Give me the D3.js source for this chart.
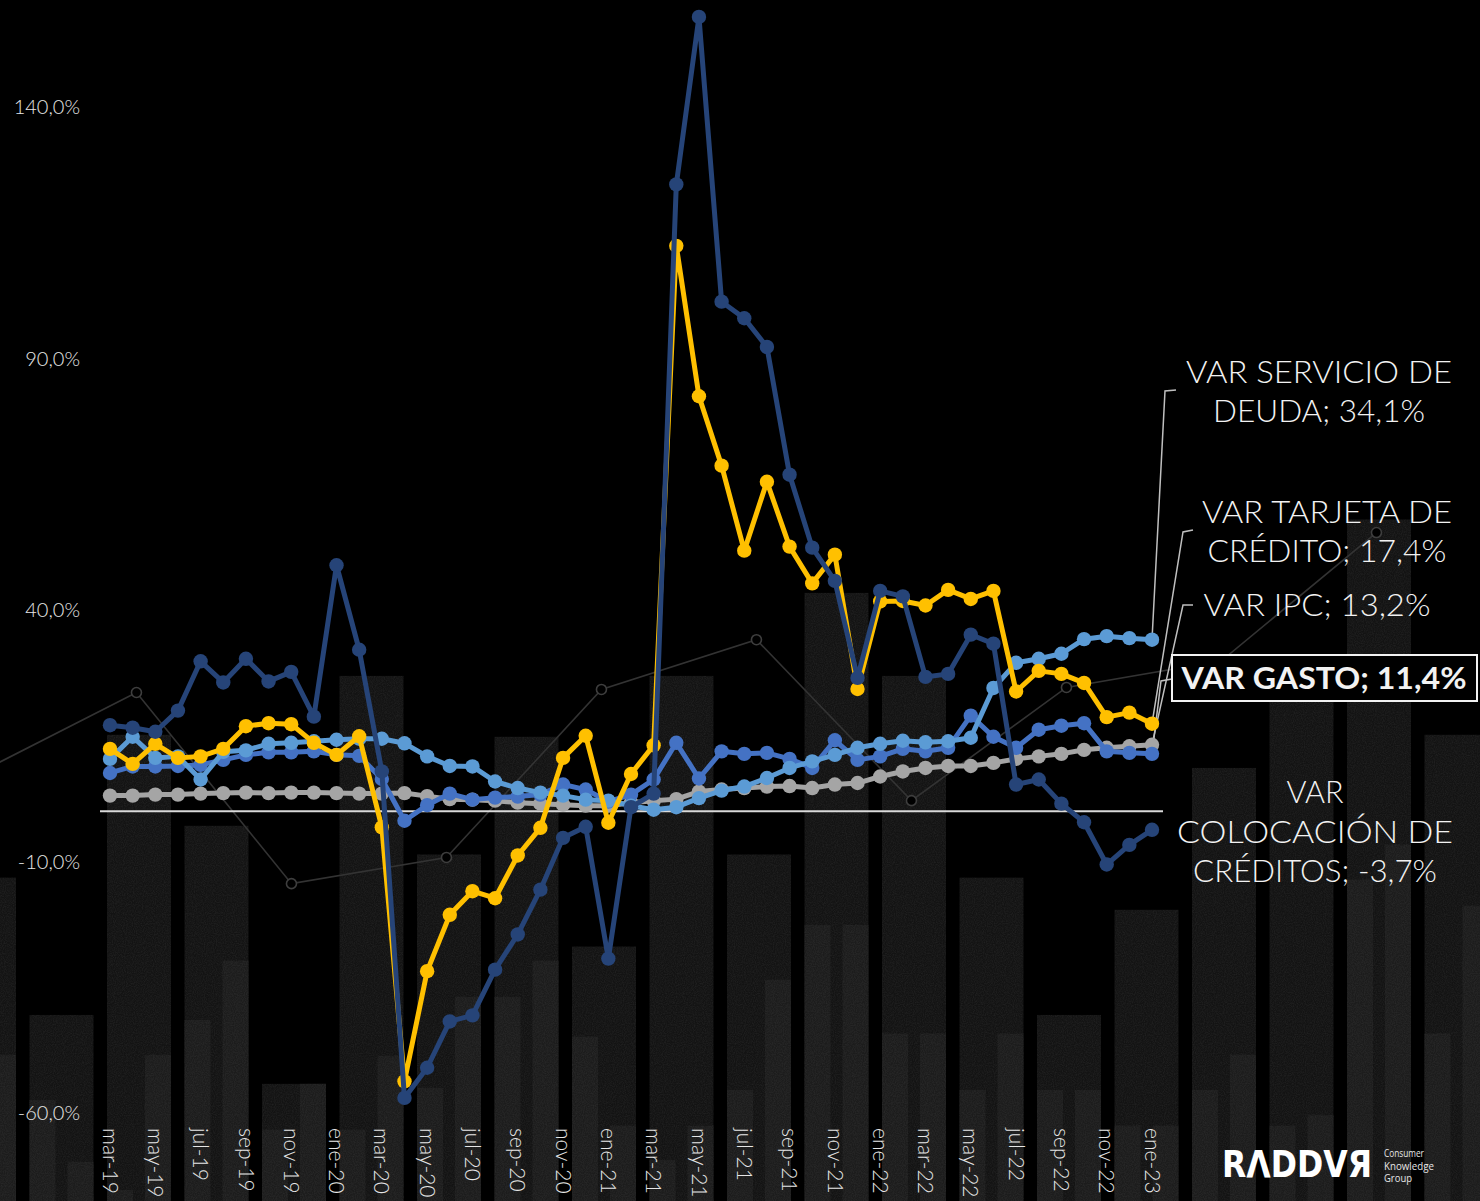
<!DOCTYPE html>
<html>
<head>
<meta charset="utf-8">
<script src="https://cdn.jsdelivr.net/npm/d3@7"></script>
<style>
html,body{margin:0;padding:0;background:#000;}
svg{display:block;}
</style>
</head>
<body>
<svg id="chart" width="1480" height="1201"></svg>
<script>
// ---------------- DATA ----------------
const months = ["mar-19","abr-19","may-19","jun-19","jul-19","ago-19","sep-19","oct-19","nov-19","dic-19",
  "ene-20","feb-20","mar-20","abr-20","may-20","jun-20","jul-20","ago-20","sep-20","oct-20","nov-20","dic-20",
  "ene-21","feb-21","mar-21","abr-21","may-21","jun-21","jul-21","ago-21","sep-21","oct-21","nov-21","dic-21",
  "ene-22","feb-22","mar-22","abr-22","may-22","jun-22","jul-22","ago-22","sep-22","oct-22","nov-22","dic-22",
  "ene-23"];
const tickMonths = months.filter((d, i) => i % 2 === 0);
const yTicks = [140, 90, 40, -10, -60];

const colocacion = [17.1,16.6,15.8,20.0,29.8,25.6,30.3,25.8,27.7,18.8,
  48.9,32.1,7.9,-57.0,-51.0,-41.8,-40.6,-31.5,-24.5,-15.6,
  -5.3,-3.1,-29.3,0.8,3.5,124.6,157.9,101.3,98.0,92.3,
  66.9,52.4,45.8,26.5,43.8,42.7,26.7,27.3,35.1,33.3,
  5.3,6.3,1.5,-2.2,-10.6,-6.7,-3.7];
const tarjeta = [12.4,9.4,13.4,10.6,10.9,12.4,16.9,17.5,17.3,13.6,
  11.2,14.9,-3.2,-53.7,-31.8,-20.6,-15.9,-17.3,-8.8,-3.3,
  10.6,15.0,-2.3,7.4,13.1,112.4,82.5,68.7,51.8,65.5,
  52.6,45.3,51.0,24.3,41.7,41.8,40.9,44.0,42.2,43.8,
  23.8,27.9,27.3,25.5,18.7,19.6,17.4];
const servicio = [10.4,14.8,10.6,10.9,6.3,11.8,12.1,13.4,13.6,13.9,
  14.2,14.4,14.4,13.5,10.9,9.0,8.9,5.9,4.6,3.7,
  3.1,2.3,2.1,1.1,0.3,0.8,2.6,4.1,4.9,6.6,
  8.6,9.9,11.2,12.6,13.4,14.0,13.7,13.9,14.6,24.5,
  29.5,30.3,31.3,34.2,34.8,34.4,34.1];
const gasto = [7.6,8.9,8.9,9.0,9.2,10.2,11.2,11.7,11.7,11.9,
  11.2,11.0,6.4,-1.9,1.2,3.5,2.3,2.7,2.9,3.3,
  5.3,4.3,1.9,3.3,6.3,13.6,6.5,11.9,11.4,11.6,
  10.4,8.6,14.1,10.2,10.9,12.4,11.9,12.6,19.0,14.8,
  12.6,16.2,17.0,17.5,11.9,11.6,11.4];
const ipc = [3.1,3.1,3.3,3.3,3.5,3.6,3.7,3.6,3.7,3.7,
  3.6,3.5,3.5,3.6,3.0,2.4,2.3,2.1,1.7,1.5,
  1.3,1.1,1.1,1.7,2.1,2.4,3.9,4.3,4.6,4.9,
  5.0,4.6,5.3,5.6,6.9,7.9,8.6,9.0,9.0,9.6,
  10.4,10.9,11.4,12.2,12.6,12.9,13.2];

// decorative background (values on the same % scale)
const bgWide    = [-13.2,-40.5,15.2,-2.9,-54.2,26.9,-8.6,14.8,-26.9,26.9,-8.6,43.4,26.9,-13.2,-40.5,-19.6,8.6,24.2,58.0,15.2];
const bgNarrowL = [null,-57.4,-75.3,-41.5,-63.3,-63.3,-55.0,-36.9,-44.8,-69.3,-55.4,-22.6,-44.2,-55.4,-55.4,-62.5,-55.4,-62.5,-13.6,-44.2];
const bgNarrowR = [-48.4,-69.7,-48.4,-29.7,-54.2,-48.6,-36.9,-29.7,-62.5,-62.5,-33.5,-22.6,-44.2,-44.2,-55.4,-62.5,-48.4,-60.4,-6.6,-18.8];
const bgLine    = [7.9,23.6,-14.4,-9.2,24.2,34.1,2.1,24.6,29.9,55.4];

// ---------------- SETUP ----------------
const W = 1480, H = 1201;
const svg = d3.select("#chart");
svg.append("rect").attr("width", W).attr("height", H).attr("fill", "#000");

const x = d3.scalePoint().domain(months).range([110, 1152]);
const y = d3.scaleLinear().domain([-60, 140]).range([1113, 107]);
const bgX = d3.scaleLinear().domain([0, 19]).range([-48, 1424.5]);
const fmtPct = v => d3.format(".1f")(v).replace(".", ",").replace("\u2212", "-") + "%";
const FONT = "Lato, 'Open Sans', 'DejaVu Sans', sans-serif";

// subtle noise texture filter
const defs = svg.append("defs");
const f = defs.append("filter").attr("id", "noise").attr("x", 0).attr("y", 0).attr("width", 1).attr("height", 1)
  .attr("color-interpolation-filters", "sRGB");
f.append("feTurbulence").attr("type", "fractalNoise").attr("baseFrequency", 0.9).attr("numOctaves", 2).attr("seed", 3).attr("result", "n");
f.append("feColorMatrix").attr("in", "n").attr("type", "matrix")
  .attr("values", "0 0 0 0 1  0 0 0 0 1  0 0 0 0 1  0.10 0 0 0 -0.03").attr("result", "w");
f.append("feComposite").attr("in", "w").attr("in2", "SourceAlpha").attr("operator", "in").attr("result", "wn");
const fm = f.append("feMerge");
fm.append("feMergeNode").attr("in", "SourceGraphic");
fm.append("feMergeNode").attr("in", "wn");

// ---------------- BACKGROUND ----------------
const bg = svg.append("g").attr("filter", "url(#noise)");
const wideW = bgX(1) - bgX(0) - 13.5;
const narrowW = 26;
bg.selectAll("rect.wide").data(bgWide).join("rect").attr("class", "wide")
  .attr("x", (d, i) => bgX(i)).attr("y", d => y(d))
  .attr("width", wideW).attr("height", d => H - y(d)).attr("fill", "#131313");
bg.selectAll("rect.nl").data(bgNarrowL.map((v, i) => ({v, i})).filter(d => d.v !== null)).join("rect").attr("class", "nl")
  .attr("x", d => bgX(d.i)).attr("y", d => y(d.v))
  .attr("width", narrowW).attr("height", d => H - y(d.v)).attr("fill", "#1c1c1c");
bg.selectAll("rect.nr").data(bgNarrowR.map((v, i) => ({v, i})).filter(d => d.v !== null)).join("rect").attr("class", "nr")
  .attr("x", d => bgX(d.i) + wideW - narrowW).attr("y", d => y(d.v))
  .attr("width", narrowW).attr("height", d => H - y(d.v)).attr("fill", "#1c1c1c");

const bgPts = bgLine.map((v, k) => [bgX(0.38 + 2 * k), y(v)]);
svg.append("path").attr("d", d3.line()(bgPts)).attr("fill", "none")
  .attr("stroke", "#333").attr("stroke-width", 1.6);
svg.selectAll("circle.bgp").data(bgPts).join("circle").attr("class", "bgp")
  .attr("cx", d => d[0]).attr("cy", d => d[1]).attr("r", 5)
  .attr("fill", "#000").attr("stroke", "#3e3e3e").attr("stroke-width", 1.6);

// ---------------- AXES ----------------
svg.append("g").selectAll("text").data(yTicks).join("text")
  .attr("x", 80).attr("y", d => y(d)).attr("dy", "0.35em")
  .attr("text-anchor", "end").attr("fill", "#e6e6e6")
  .attr("font-family", FONT).attr("font-size", 20).attr("font-weight", 300)
  .text(d => fmtPct(d));

svg.append("g").selectAll("text").data(tickMonths).join("text")
  .attr("transform", d => `translate(${x(d)},1128) rotate(90)`)
  .attr("text-anchor", "start").attr("dy", "0.35em")
  .attr("fill", "#e6e6e6").attr("font-family", FONT).attr("font-size", 21).attr("font-weight", 300)
  .text(d => d);

// zero line
svg.append("line").attr("x1", 100).attr("x2", 1163).attr("y1", y(0)).attr("y2", y(0))
  .attr("stroke", "#d9d9d9").attr("stroke-width", 2);

// ---------------- SERIES ----------------
const series = [
  {key: "ipc",        values: ipc,        color: "#A5A5A5", lines: ["VAR IPC; "], anchor: [[1193, 605], [1183, 605]]},
  {key: "gasto",      values: gasto,      color: "#4472C4", lines: ["VAR GASTO; "], anchor: [[1172, 679], [1161, 681]]},
  {key: "servicio",   values: servicio,   color: "#5B9BD5", lines: ["VAR SERVICIO DE", "DEUDA; "], anchor: [[1176, 390], [1165, 391]]},
  {key: "tarjeta",    values: tarjeta,    color: "#FFC000", lines: ["VAR TARJETA DE", "CRÉDITO; "], anchor: [[1193, 530], [1183, 532]]},
  {key: "colocacion", values: colocacion, color: "#264478", lines: ["VAR", "COLOCACIÓN DE", "CRÉDITOS; "], anchor: null}
];

// leader lines
const leaders = svg.append("g");
series.filter(s => s.anchor).forEach(s => {
  const last = s.values.length - 1;
  const pts = [...s.anchor, [x(months[last]), y(s.values[last])]];
  leaders.append("path").attr("d", d3.line()(pts)).attr("fill", "none")
    .attr("stroke", "#bfbfbf").attr("stroke-width", 1.5);
});

const line = d3.line().x((d, i) => x(months[i])).y(d => y(d));
series.forEach(s => {
  const g = svg.append("g");
  g.append("path").attr("d", line(s.values)).attr("fill", "none")
    .attr("stroke", s.color).attr("stroke-width", 5).attr("stroke-linejoin", "round");
  g.selectAll("circle").data(s.values).join("circle")
    .attr("cx", (d, i) => x(months[i])).attr("cy", d => y(d)).attr("r", 7.2)
    .attr("fill", s.color);
});

// ---------------- LABELS ----------------
const labelLayout = {
  servicio:   {cx: 1319, base: [383, 422], widths: [266, 212], bold: false},
  tarjeta:    {cx: 1327, base: [523, 562], widths: [250, 239], bold: false},
  ipc:        {cx: 1317, base: [616], widths: [227], bold: false},
  gasto:      {cx: 1324, base: [689], widths: [285], bold: true, box: [1172, 655, 305, 46]},
  colocacion: {cx: 1315, base: [803, 843, 882], widths: [57, 276, 244], bold: false}
};
const labels = svg.append("g");
series.forEach(s => {
  const L = labelLayout[s.key];
  const lastVal = s.values[s.values.length - 1];
  const texts = s.lines.map((t, i) => i === s.lines.length - 1 ? t + fmtPct(lastVal) : t);
  if (L.box) {
    labels.append("rect").attr("x", L.box[0]).attr("y", L.box[1]).attr("width", L.box[2]).attr("height", L.box[3])
      .attr("fill", "#000").attr("stroke", "#f2f2f2").attr("stroke-width", 2);
  }
  texts.forEach((t, i) => {
    labels.append("text").attr("x", L.cx).attr("y", L.base[i]).attr("text-anchor", "middle")
      .attr("fill", "#f2f2f2").attr("font-family", FONT).attr("font-size", 31)
      .attr("font-weight", L.bold ? 700 : 300)
      .attr("textLength", L.widths[i]).attr("lengthAdjust", "spacingAndGlyphs")
      .text(t);
  });
});

// ---------------- LOGO ----------------
const logo = svg.append("g");
const LOGO_FONT = "'Liberation Sans Narrow', 'DejaVu Sans Condensed', sans-serif";
logo.append("text").attr("x", 1222).attr("y", 1177)
  .attr("fill", "#fff").attr("font-family", LOGO_FONT).attr("font-weight", 700).attr("font-size", 38)
  .attr("textLength", 150).attr("lengthAdjust", "spacingAndGlyphs").text("RΛDDVЯ");
["Consumer", "Knowledge", "Group"].forEach((t, i) => {
  logo.append("text").attr("x", 1384).attr("y", 1157 + i * 12.5)
    .attr("fill", "#e6e6e6").attr("font-family", "'Open Sans', sans-serif")
    .attr("font-size", 10).attr("textLength", i === 2 ? 28 : (i === 0 ? 40 : 50)).attr("lengthAdjust", "spacingAndGlyphs")
    .text(t);
});
</script>
</body>
</html>
